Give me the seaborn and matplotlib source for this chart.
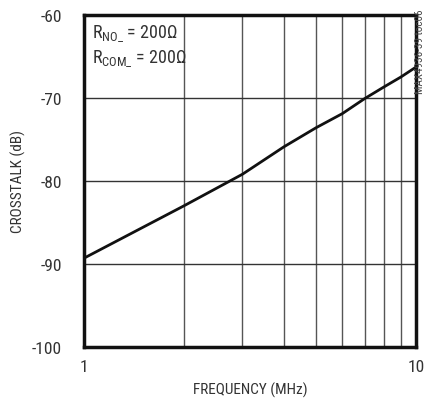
import numpy as np
import pandas as pd
import matplotlib
matplotlib.use("Agg")
import matplotlib.pyplot as plt
import seaborn as sns

# Data
freq_mhz = [1, 2, 3, 4, 5, 6, 7, 8, 9, 10]
crosstalk_db = [-89.3, -83.0, -79.2, -75.9, -73.6, -71.9, -70.1, -68.7, -67.5, -66.3]
y_ticks = [-100, -90, -80, -70, -60]
x_ticks = [1, 10]

df = pd.DataFrame({"freq": freq_mhz, "xtalk": crosstalk_db})

sns.set_style("white")
plt.rcParams['font.family'] = ['Roboto Condensed', 'Liberation Sans Narrow', 'Liberation Sans', 'DejaVu Sans']
plt.rcParams['mathtext.fontset'] = 'custom'
plt.rcParams['mathtext.rm'] = 'Roboto Condensed'
plt.rcParams['mathtext.it'] = 'Roboto Condensed'

fig = plt.figure(figsize=(4.27, 4.06), dpi=100)
ax = fig.add_axes([0.197, 0.143, 0.777, 0.818])

sns.lineplot(data=df, x="freq", y="xtalk", ax=ax, color="#111111", linewidth=2.0)

ax.set_xscale("log")
ax.set_xlim(1, 10)
ax.set_ylim(-100, -60)

# grid
for xv in range(2, 10):
    ax.axvline(xv, color="#555555", linewidth=1.0, zorder=0)
for yv in [-90, -80, -70]:
    ax.axhline(yv, color="#333333", linewidth=1.0, zorder=0)

ax.set_xticks(x_ticks)
ax.set_xticklabels([str(v) for v in x_ticks])
ax.set_xticks([], minor=True)
ax.set_yticks(y_ticks)
ax.set_yticklabels([str(v) for v in y_ticks])
ax.tick_params(axis="both", length=0, labelsize=12.5, colors="#333333")
ax.tick_params(axis="x", pad=9)
ax.tick_params(axis="y", pad=16)

for s in ax.spines.values():
    s.set_visible(True)
    s.set_color("#111111")
    s.set_linewidth(2.5)

ax.set_xlabel("FREQUENCY (MHz)", fontsize=11, color="#333333", labelpad=5)
ax.set_ylabel("CROSSTALK (dB)", fontsize=11, color="#333333", labelpad=4)

ax.text(0.025, 0.978, r"R$_{\mathrm{NO\_}}$ = 200$\Omega$", transform=ax.transAxes,
        fontsize=13, va="top", ha="left", color="#333333")
ax.text(0.025, 0.903, r"R$_{\mathrm{COM\_}}$ = 200$\Omega$", transform=ax.transAxes,
        fontsize=13, va="top", ha="left", color="#333333")

fig.text(0.996, 0.976, "MAX4936-39 toc06", rotation=90, fontsize=8, va="top", ha="right",
         color="#444444")

plt.savefig("out.png", dpi=100)
